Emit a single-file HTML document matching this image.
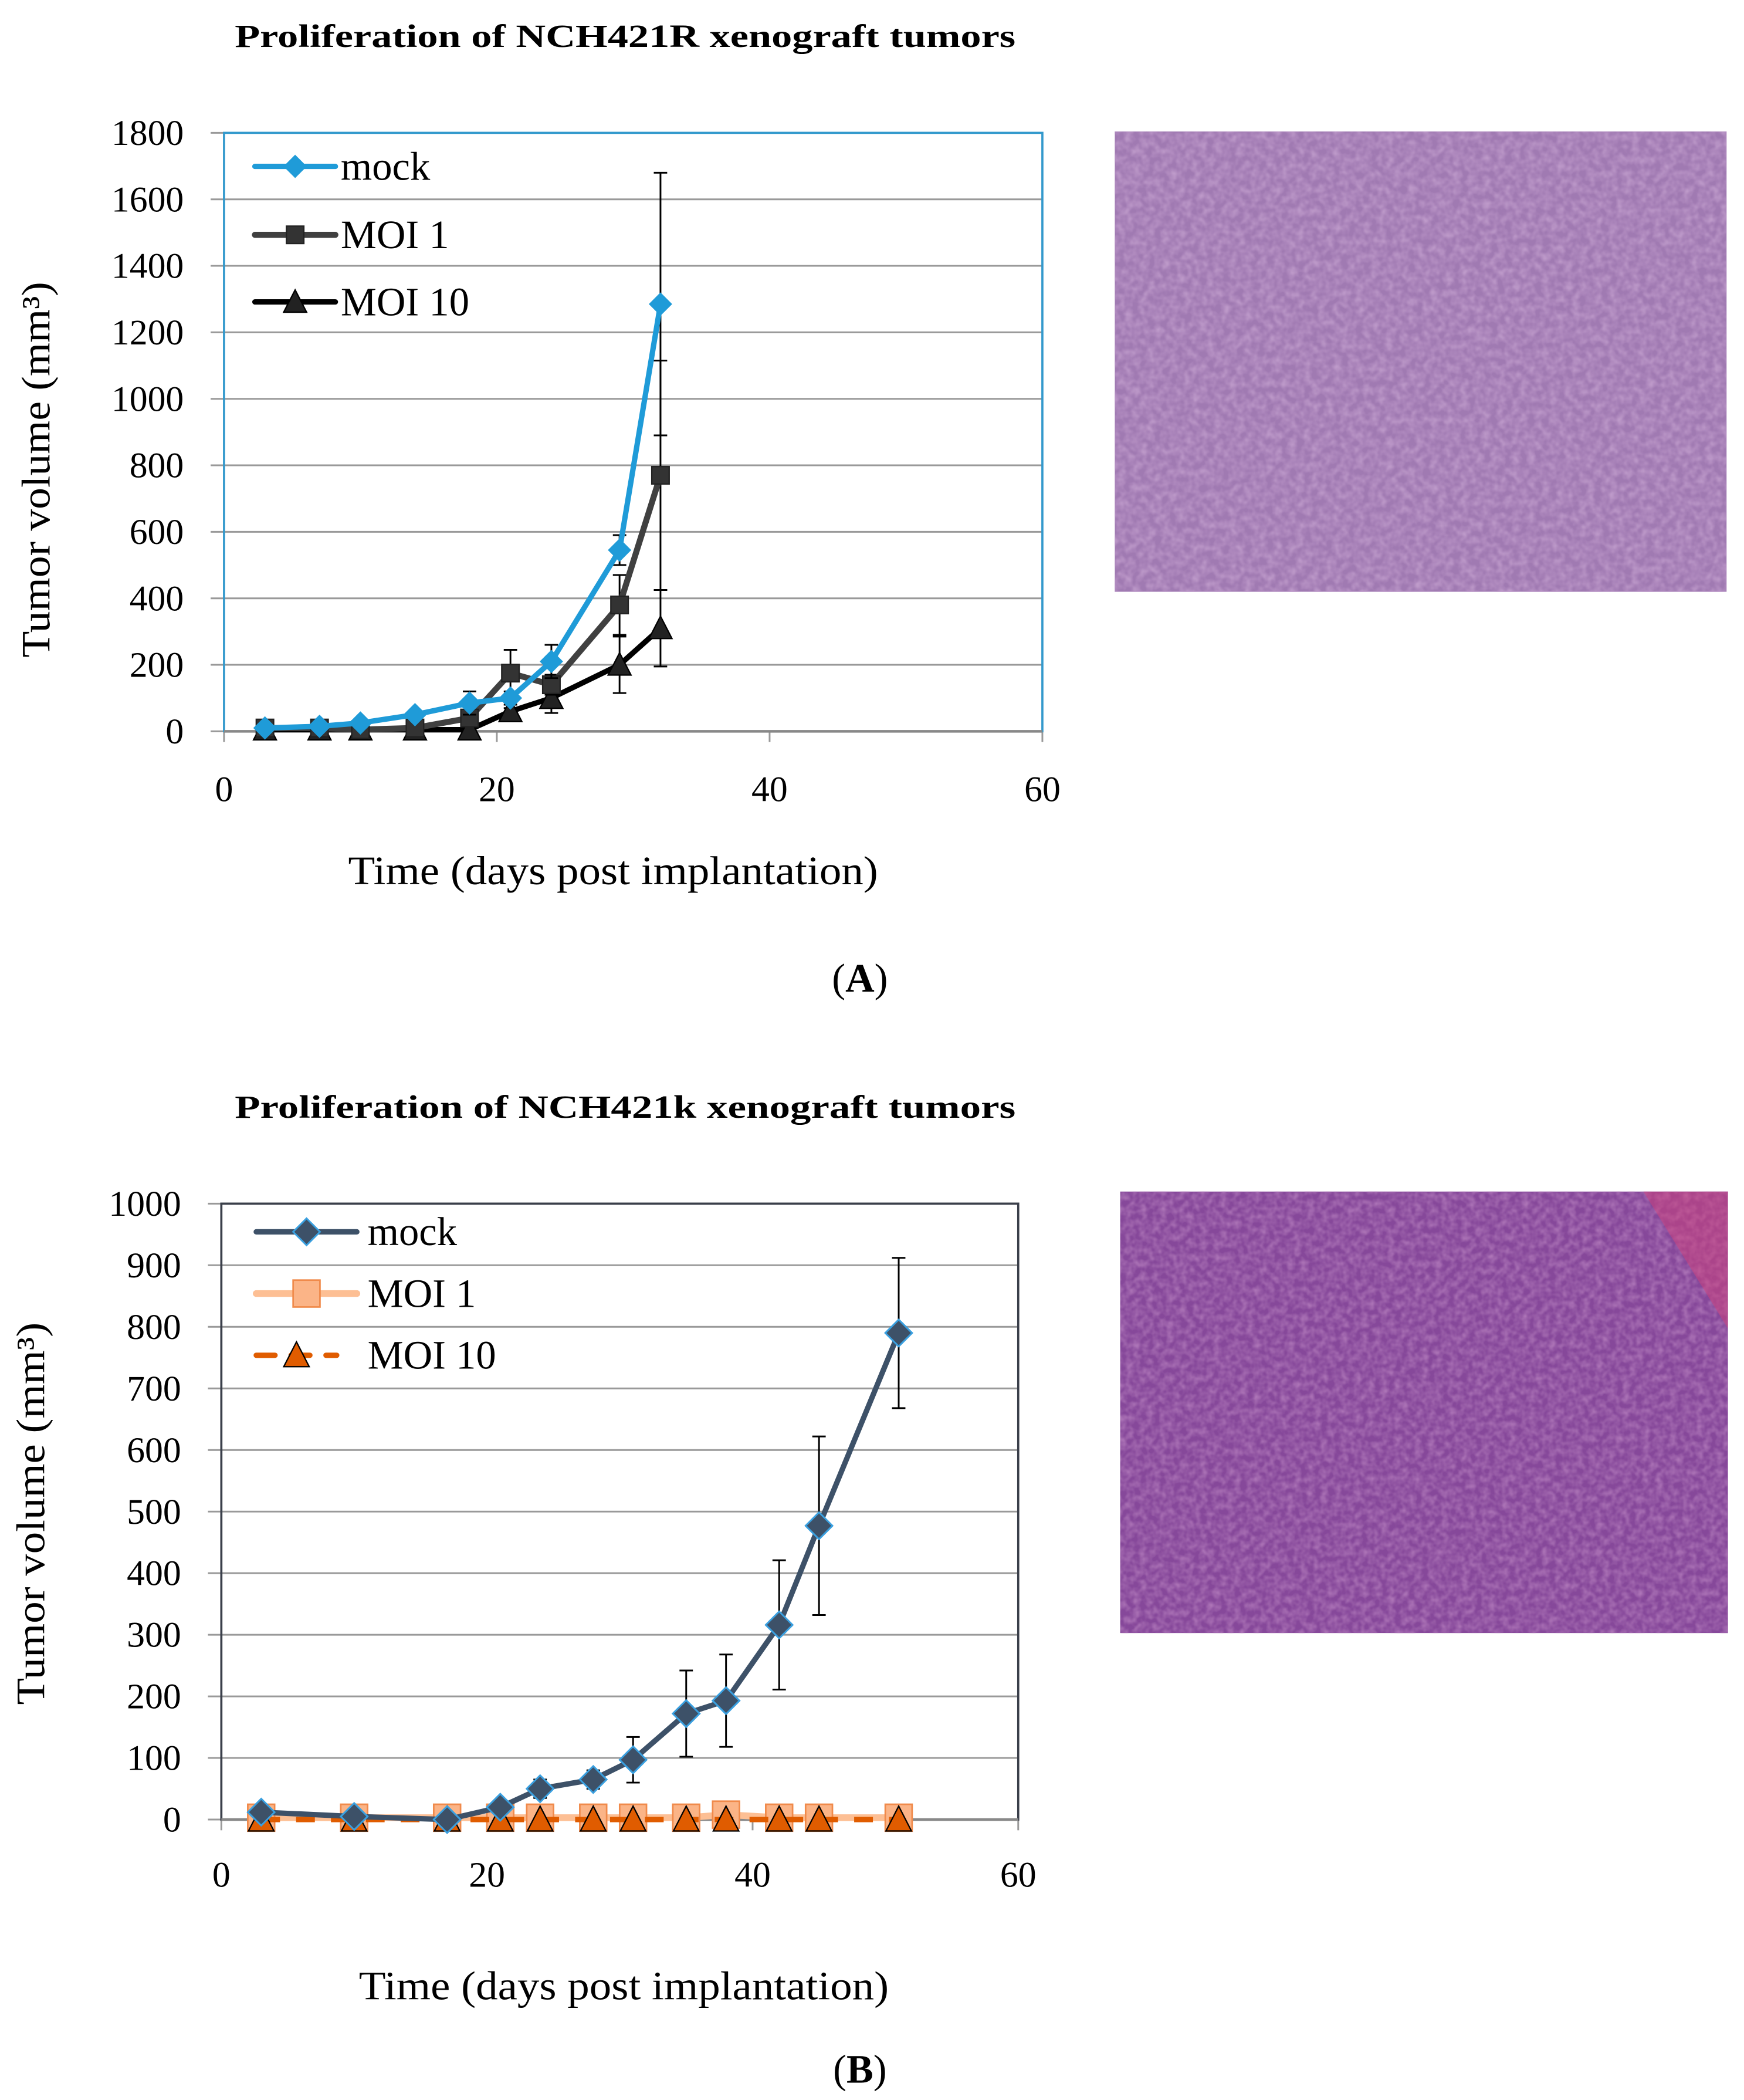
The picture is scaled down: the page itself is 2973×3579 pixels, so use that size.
<!DOCTYPE html>
<html><head><meta charset="utf-8"><style>
html,body{margin:0;padding:0;background:#fff;}
svg{display:block;}
text{font-family:"Liberation Serif",serif;}
</style></head><body>
<svg id="fig" width="2973" height="3579" viewBox="0 0 1300 1565" preserveAspectRatio="none" xmlns="http://www.w3.org/2000/svg">
<defs>
<filter id="texA" x="0" y="0" width="1" height="1"><feTurbulence type="fractalNoise" baseFrequency="0.18" numOctaves="2" seed="3"/><feColorMatrix values="0 0 0 0 0.55  0 0 0 0 0.35  0 0 0 0 0.62  0 0 0 -1.6 1.1"/></filter>
<filter id="texB" x="0" y="0" width="1" height="1"><feTurbulence type="fractalNoise" baseFrequency="0.2" numOctaves="2" seed="7"/><feColorMatrix values="0 0 0 0 0.45  0 0 0 0 0.2  0 0 0 0 0.5  0 0 0 -1.6 1.1"/></filter>
</defs>
<text x="175" y="35" textLength="582" lengthAdjust="spacingAndGlyphs" font-size="24" font-weight="bold">Proliferation of NCH421R xenograft tumors</text>
<text x="175" y="833" textLength="582" lengthAdjust="spacingAndGlyphs" font-size="24" font-weight="bold">Proliferation of  NCH421k xenograft tumors</text>
<text x="641" y="739" text-anchor="middle" font-size="30">(<tspan font-weight="bold">A</tspan>)</text>
<text x="641" y="1552" text-anchor="middle" font-size="30">(<tspan font-weight="bold">B</tspan>)</text>
<g>
<rect x="831" y="98" width="456" height="343" fill="#a07ab2"/>
<rect x="831" y="98" width="456" height="343" filter="url(#texA)" opacity="0.9"/>
</g>
<g>
<rect x="835" y="888" width="453" height="329" fill="#86489a"/>
<rect x="835" y="888" width="453" height="329" filter="url(#texB)" opacity="0.9"/>
<polygon points="1225,888 1288,888 1288,990" fill="#d0407a" opacity="0.5"/>
</g>
<g id="chartA"></g>
<g id="chartB"></g>
</svg>
<script>
const daysA = [3,7,10,14,18,21,24,29,32];
const mockA = [10,15,25,50,85,100,210,545,1285];
const mockAErr = [0,0,0,8,35,20,50,45,395];
const moi1A = [10,10,5,10,40,175,140,380,770];
const moi1AErr = [0,0,0,5,10,70,30,90,345];
const moi10A = [5,5,5,5,5,60,100,200,310];
const moi10AErr = [0,0,0,0,0,10,45,85,115];
const yTicksA = [0,200,400,600,800,1000,1200,1400,1600,1800];
const xTicks = [0,20,40,60];

const daysB = [3,10,17,21,24,28,31,35,38,42,45,51];
const mockB = [12,5,0,20,50,65,97,172,193,316,477,790];
const mockBErr = [0,0,0,0,15,15,37,70,75,105,145,122];
const moi1B = [3,3,3,3,3,3,3,3,8,3,3,3];
const moi10B = [0,0,0,0,0,0,0,0,0,0,0,0];
const yTicksB = [0,100,200,300,400,500,600,700,800,900,1000];

const NS = "http://www.w3.org/2000/svg";
function mk(parent, tag, attrs, txt){
  const e = document.createElementNS(NS, tag);
  for (const k in attrs) e.setAttribute(k, attrs[k]);
  if (txt !== undefined) e.textContent = txt;
  parent.appendChild(e);
  return e;
}
function marker(g, type, x, y, s, fill, stroke, sw){
  if (type === 'diamond') return mk(g,'polygon',{points:`${x},${y-s} ${x+s},${y} ${x},${y+s} ${x-s},${y}`,fill:fill,stroke:stroke,'stroke-width':sw});
  if (type === 'square') return mk(g,'rect',{x:x-s,y:y-s,width:2*s,height:2*s,fill:fill,stroke:stroke,'stroke-width':sw});
  return mk(g,'polygon',{points:`${x},${y-s} ${x+s*0.95},${y+s*0.85} ${x-s*0.95},${y+s*0.85}`,fill:fill,stroke:stroke,'stroke-width':sw});
}
const FF = '"Liberation Serif", serif';

function drawChart(root, cfg){
  const L=cfg.l,R=cfg.r,T=cfg.t,B=cfg.b;
  const ymax = cfg.yTicks[cfg.yTicks.length-1];
  const sx = v => L + (v/60)*(R-L);
  const sy = v => B - (v/ymax)*(B-T);
  cfg.yTicks.forEach(t=>{
    const gl = mk(root,'line',{x1:L-10,x2:R,y1:sy(t),y2:sy(t),stroke:'#999','stroke-width':1.3});
    
    
    const tl = mk(root,'text',{x:L-30,y:sy(t)+9,'text-anchor':'end','font-size':27,'font-family':FF},t);
    
    
  });
  xTicks.forEach(t=>{
    mk(root,'line',{x1:sx(t),x2:sx(t),y1:B,y2:B+8,stroke:'#999','stroke-width':1.3});
    const tl = mk(root,'text',{x:sx(t),y:B+cfg.xlabOff,'text-anchor':'middle','font-size':27,'font-family':FF},t);
    
    
  });
  const frame = mk(root,'rect',{x:L,y:T,width:R-L,height:B-T,fill:'none',stroke:cfg.frame,'stroke-width':1.6});
  
  
  mk(root,'line',{x1:L,x2:R,y1:B,y2:B,stroke:'#888','stroke-width':2});
  const yt = mk(root,'text',{transform:`translate(${cfg.ytx},${cfg.ytc}) rotate(-90)`,'text-anchor':'middle','font-size':30,'font-family':FF,textLength:cfg.ytl,lengthAdjust:'spacingAndGlyphs'},cfg.ytitle);
  
  
  const xt = mk(root,'text',{x:cfg.xtx,y:cfg.xty,'text-anchor':'middle','font-size':30,'font-family':FF,textLength:395,lengthAdjust:'spacingAndGlyphs'},'Time (days post implantation)');
  
  

  cfg.series.forEach(s=>{
    const g = mk(root,'g',{});
    
    
    if (s.err) s.vals.forEach((v,i)=>{
      const e = s.err[i]; if(!e) return;
      const x = sx(cfg.days[i]);
      const eb = mk(g,'path',{d:`M${x},${sy(v-e)}V${sy(v+e)}M${x-5},${sy(v-e)}h10M${x-5},${sy(v+e)}h10`,stroke:'#000','stroke-width':1.3,fill:'none'});
      
      
    });
    const pts = s.vals.map((v,i)=>sx(cfg.days[i])+','+sy(v)).join(' ');
    const ln = mk(g,'polyline',{points:pts,fill:'none',stroke:s.color,'stroke-width':s.w,'stroke-dasharray':s.dash||'none','stroke-linejoin':'round'});
    
    
    s.vals.forEach((v,i)=>{
      const m = marker(g,s.mk,sx(cfg.days[i]),sy(v),s.ms,s.mfill,s.mstroke,s.msw);
      
      
    });
    const lg = mk(root,'g',{});
    
    
    mk(lg,'line',{x1:s.lx,x2:s.lx+s.lw,y1:s.ly,y2:s.ly,stroke:s.color,'stroke-width':s.w,'stroke-dasharray':s.dash||'none','stroke-linecap':'round'});
    marker(lg,s.mk,s.lx+s.lw/2,s.ly,s.ms,s.mfill,s.mstroke,s.msw);
    mk(lg,'text',{x:s.lx+s.lw+s.tg,y:s.ly+10,'font-size':30,'font-family':FF},s.name);
  });
}

drawChart(document.getElementById('chartA'),{
  l:167,r:777,t:99,b:545,yTicks:yTicksA,days:daysA,frame:'#3399cc',xlabOff:52,
  ytx:37,ytc:350,ytl:280,ytitle:'Tumor volume (mm³)',xtx:457,xty:659,
  series:[
    {id:'moi10',name:'MOI 10',vals:moi10A,err:moi10AErr,color:'#000',w:4,mk:'tri',ms:9,mfill:'#222',mstroke:'#000',msw:1,lx:190,ly:225,lw:60,tg:4},
    {id:'moi1',name:'MOI 1',vals:moi1A,err:moi1AErr,color:'#404040',w:4.5,mk:'square',ms:6.5,mfill:'#333',mstroke:'#222',msw:1,lx:190,ly:175,lw:60,tg:4},
    {id:'mock',name:'mock',vals:mockA,err:mockAErr,color:'#1f9bd8',w:4,mk:'diamond',ms:8,mfill:'#1f9bd8',mstroke:'#1f9bd8',msw:1,lx:190,ly:124,lw:60,tg:4}
  ]
});
drawChart(document.getElementById('chartB'),{
  l:165,r:759,t:897,b:1356,yTicks:yTicksB,days:daysB,frame:'#3a3f4a',xlabOff:50,
  ytx:33,ytc:1128,ytl:285,ytitle:'Tumor volume  (mm³)',xtx:465,xty:1490,
  series:[
    {id:'moi1',name:'MOI 1',vals:moi1B,err:null,color:'#fdbf94',w:5,mk:'square',ms:10,mfill:'#fbb487',mstroke:'#f08a4b',msw:1.2,lx:191,ly:964,lw:75,tg:8},
    {id:'moi10',name:'MOI 10',vals:moi10B,err:null,color:'#e05c00',w:4,dash:'14,12',mk:'tri',ms:10,mfill:'#e05c00',mstroke:'#000',msw:1,lx:191,ly:1010,lw:60,tg:23},
    {id:'mock',name:'mock',vals:mockB,err:mockBErr,color:'#3d5168',w:4,mk:'diamond',ms:10,mfill:'#3d5168',mstroke:'#3aa0e0',msw:1.3,lx:191,ly:918,lw:75,tg:8}
  ]
});
</script>
</body></html>
